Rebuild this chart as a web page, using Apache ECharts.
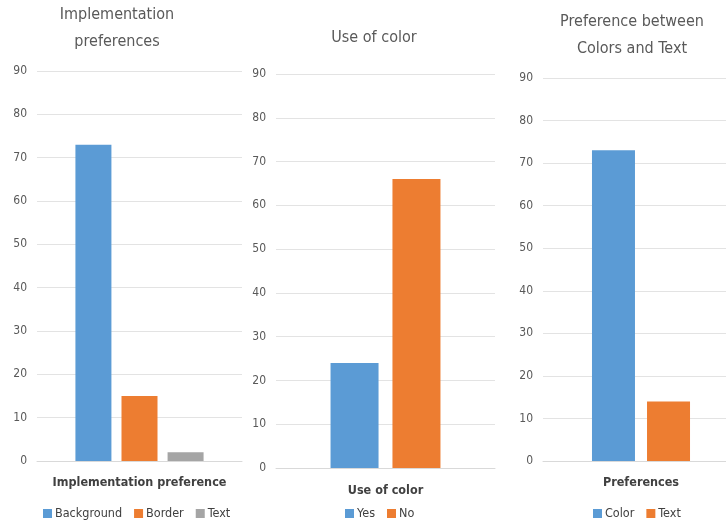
<!DOCTYPE html>
<html>
<head>
<meta charset="utf-8">
<script src="https://cdn.jsdelivr.net/npm/echarts@6/dist/echarts.min.js"></script>
<style>
  html, body { margin: 0; padding: 0; background: #fff; overflow: hidden; }
  /* 右侧面板在原图中被裁切，画布略宽于窗口 */
  #chart { width: 739px; height: 524px; }
</style>
</head>
<body>
<div id="chart"></div>
<script>
// 数据
const implNames = ['Background', 'Border', 'Text'];
const implValues = [73, 15, 2];
const colorUseNames = ['Yes', 'No'];
const colorUseValues = [24, 66];
const prefNames = ['Color', 'Text'];
const prefValues = [73, 14];
const yTicks = [0, 10, 20, 30, 40, 50, 60, 70, 80, 90];
const palette = ['#5B9BD5', '#ED7D31', '#A5A5A5'];

const FONT = '"DejaVu Sans Condensed", "Liberation Sans Narrow", sans-serif';

// 面板配置
const panels = [
  { title: 'Implementation\npreferences', axisName: 'Implementation preference',
    names: implNames, values: implValues,
    grid: { left: 37, right: 497, top: 71, bottom: 63 },
    titlePos: { left: 117, top: 1.5 }, nameGap: 15,
    barWidth: 36, barGap: '28%', legendLeft: 43 },
  { title: 'Use of color', axisName: 'Use of color',
    names: colorUseNames, values: colorUseValues,
    grid: { left: 276, right: 244, top: 74, bottom: 56 },
    titlePos: { left: 374, top: 24.5 }, nameGap: 16,
    barWidth: 48, barGap: '29%', legendLeft: 345 },
  { title: 'Preference between\nColors and Text', axisName: 'Preferences',
    names: prefNames, values: prefValues,
    grid: { left: 543, right: 0, top: 78, bottom: 63 },
    titlePos: { left: 632, top: 8.5 }, nameGap: 15,
    barWidth: 43, barGap: '28%', legendLeft: 593 }
];

const option = {
  animation: false,
  textStyle: { fontFamily: FONT },
  title: [],
  legend: [],
  grid: [],
  xAxis: [],
  yAxis: [],
  series: []
};

panels.forEach((p, i) => {
  option.title.push({
    text: p.title,
    left: p.titlePos.left,
    top: p.titlePos.top,
    padding: 0,
    textAlign: 'center',
    textStyle: { fontFamily: FONT, fontSize: 16, fontWeight: 'normal', color: '#595959', lineHeight: 27 }
  });
  option.grid.push(p.grid);
  option.xAxis.push({
    type: 'category',
    gridIndex: i,
    data: [''],
    name: p.axisName,
    nameLocation: 'middle',
    nameGap: p.nameGap,
    nameTextStyle: { fontFamily: FONT, fontSize: 12.5, fontWeight: 'bold', color: '#404040' },
    axisLine: { lineStyle: { color: '#d9d9d9' } },
    axisTick: { show: false },
    axisLabel: { show: false }
  });
  option.yAxis.push({
    type: 'value',
    gridIndex: i,
    min: yTicks[0],
    max: yTicks[yTicks.length - 1],
    interval: 10,
    axisLine: { show: false },
    axisTick: { show: false },
    axisLabel: { color: '#595959', fontSize: 12, margin: 10, fontFamily: FONT },
    splitLine: { lineStyle: { color: '#e3e3e3' } }
  });
  // 每个面板一个图例，颜色按面板内顺序
  option.legend.push({
    data: p.names.map((name, j) => ({ name: name, itemStyle: { color: palette[j] } })),
    left: p.legendLeft,
    top: 507,
    padding: 0,
    textStyle: { fontFamily: FONT, fontSize: 12.5, color: '#404040', padding: [0, 0, 0, -2] },
    icon: 'rect',
    itemWidth: 9,
    itemHeight: 9,
    itemGap: 12,
    selectedMode: false
  });
  p.names.forEach((name, j) => {
    option.series.push({
      name: name,
      type: 'bar',
      xAxisIndex: i,
      yAxisIndex: i,
      data: [p.values[j]],
      barWidth: p.barWidth,
      barGap: p.barGap,
      itemStyle: { color: palette[j] }
    });
  });
});

const chart = echarts.init(document.getElementById('chart'));
chart.setOption(option);
</script>
</body>
</html>
